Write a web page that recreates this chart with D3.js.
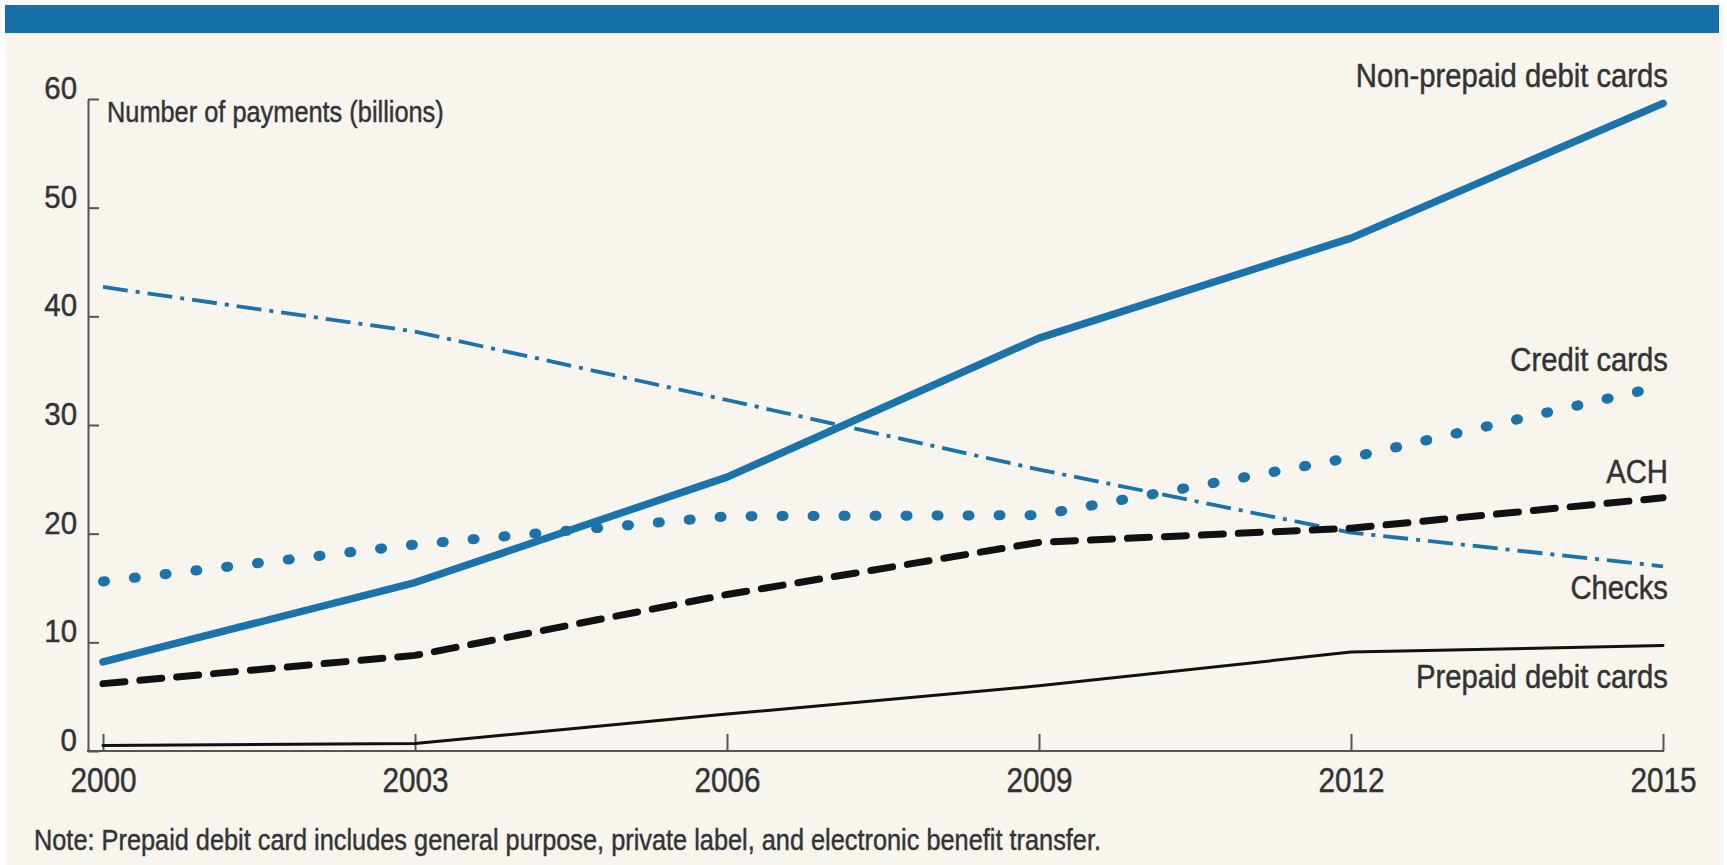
<!DOCTYPE html>
<html>
<head>
<meta charset="utf-8">
<script src="https://cdn.jsdelivr.net/npm/d3@7"></script>
<style>
  html, body { margin: 0; padding: 0; background: #ffffff; }
  svg { display: block; }
  text { font-family: "Liberation Sans", Arial, "DejaVu Sans", sans-serif; fill: #333333; stroke: #333333; stroke-width: 0.45px; }
</style>
</head>
<body>
<svg id="chart" width="1727" height="865"></svg>
<script>
// ---- Data ----
const years = [2000, 2003, 2006, 2009, 2012, 2015];
const nonPrepaidDebit = [8.2, 15.5, 25.2, 38.0, 47.2, 59.6];
const creditCards     = [15.6, 19.0, 21.6, 21.7, 27.0, 33.6];
const ach             = [6.2, 8.8, 14.4, 19.2, 20.5, 23.3];
const checks          = [42.7, 38.6, 32.3, 25.9, 20.1, 17.0];
const prepaidDebit    = [0.5, 0.7, 3.4, 6.0, 9.1, 9.7];
const yTicks = [0, 10, 20, 30, 40, 50, 60];
const seriesNames = ["Non-prepaid debit cards", "Credit cards", "ACH", "Checks", "Prepaid debit cards"];
const yAxisTitle = "Number of payments (billions)";
const noteText = "Note: Prepaid debit card includes general purpose, private label, and electronic benefit transfer.";

// ---- Layout ----
const W = 1727, H = 865;
const svg = d3.select("#chart");
const blue = "#1a73ab";

svg.append("rect").attr("x", 5).attr("y", 5).attr("width", 1718).attr("height", H - 5).attr("fill", "#f8f4ee");
svg.append("rect").attr("x", 5).attr("y", 5).attr("width", 1714).attr("height", 28).attr("fill", "#1570a8");

const x = d3.scaleLinear().domain([2000, 2015]).range([103, 1663]);
const y = d3.scaleLinear().domain([0, 60]).range([751, 99]);
const axisX0 = 88;

// condensed text helper: fit real text to a measured width
function condense(sel, ratio) {
  sel.each(function () {
    const w = this.getComputedTextLength();
    d3.select(this).attr("textLength", w * ratio).attr("lengthAdjust", "spacingAndGlyphs");
  });
}

// Y axis
const yAxis = svg.append("g").attr("transform", `translate(${axisX0},0)`)
  .call(d3.axisLeft(y).tickValues(yTicks).tickSize(-11).tickSizeOuter(0).tickPadding(11));
yAxis.select(".domain").attr("stroke", "#555").attr("stroke-width", 2);
yAxis.selectAll(".tick line").attr("stroke", "#555").attr("stroke-width", 2);
yAxis.selectAll(".tick text").attr("dy", "-0.02em").attr("y", 0)
  .style("font-size", "31px").attr("fill", "#333");
condense(yAxis.selectAll(".tick text"), 0.95);

// X axis
const xAxis = svg.append("g").attr("transform", `translate(0,${y(0)})`)
  .call(d3.axisBottom(x).tickValues(years).tickFormat(d3.format("d")).tickSize(-17).tickSizeOuter(0).tickPadding(16));
xAxis.select(".domain").remove();
xAxis.append("line").attr("x1", axisX0 - 1).attr("x2", x(2015) + 1).attr("y1", 0).attr("y2", 0)
  .attr("stroke", "#555").attr("stroke-width", 2);
xAxis.selectAll(".tick line").attr("stroke", "#555").attr("stroke-width", 2);
xAxis.selectAll(".tick text").style("font-size", "35px").attr("fill", "#333");
condense(xAxis.selectAll(".tick text"), 0.85);

// Y axis title
const title = svg.append("text").attr("x", 107).attr("y", 122).style("font-size", "30px").text(yAxisTitle);
condense(title, 0.845);

// Lines
const line = d3.line().x((d, i) => x(years[i])).y(d => y(d)).curve(d3.curveLinear);
const series = [
  { name: seriesNames[3], values: checks, color: blue, width: 3.8, dash: "25,8,4,8", cap: "butt", labelDy: 33 },
  { name: seriesNames[4], values: prepaidDebit, color: "#111", width: 3, dash: null, cap: "round", labelDy: 42 },
  { name: seriesNames[2], values: ach, color: "#111", width: 7, dash: "22,15", cap: "round", labelDy: -15 },
  { name: seriesNames[1], values: creditCards, color: blue, width: 10, dash: "2,29", cap: "round", labelDy: -15 },
  { name: seriesNames[0], values: nonPrepaidDebit, color: blue, width: 7.5, dash: null, cap: "round", labelDy: -16 }
];

svg.append("g").selectAll("path").data(series).join("path")
  .attr("d", d => line(d.values))
  .attr("fill", "none")
  .attr("stroke", d => d.color)
  .attr("stroke-width", d => d.width)
  .attr("stroke-linecap", d => d.cap)
  .attr("stroke-linejoin", "round")
  .attr("stroke-dasharray", d => d.dash);

// Series labels
const labels = svg.append("g").selectAll("text").data(series).join("text")
  .attr("x", x(2015) + 5)
  .attr("y", d => y(d.values[d.values.length - 1]) + d.labelDy)
  .attr("text-anchor", "end")
  .style("font-size", "32.5px")
  .text(d => d.name);
condense(labels, 0.90);

// Note
const note = svg.append("text").attr("x", 34).attr("y", 850).style("font-size", "30px").text(noteText);
note.each(function () {
  d3.select(this).attr("textLength", 1067).attr("lengthAdjust", "spacingAndGlyphs");
});
</script>
</body>
</html>
